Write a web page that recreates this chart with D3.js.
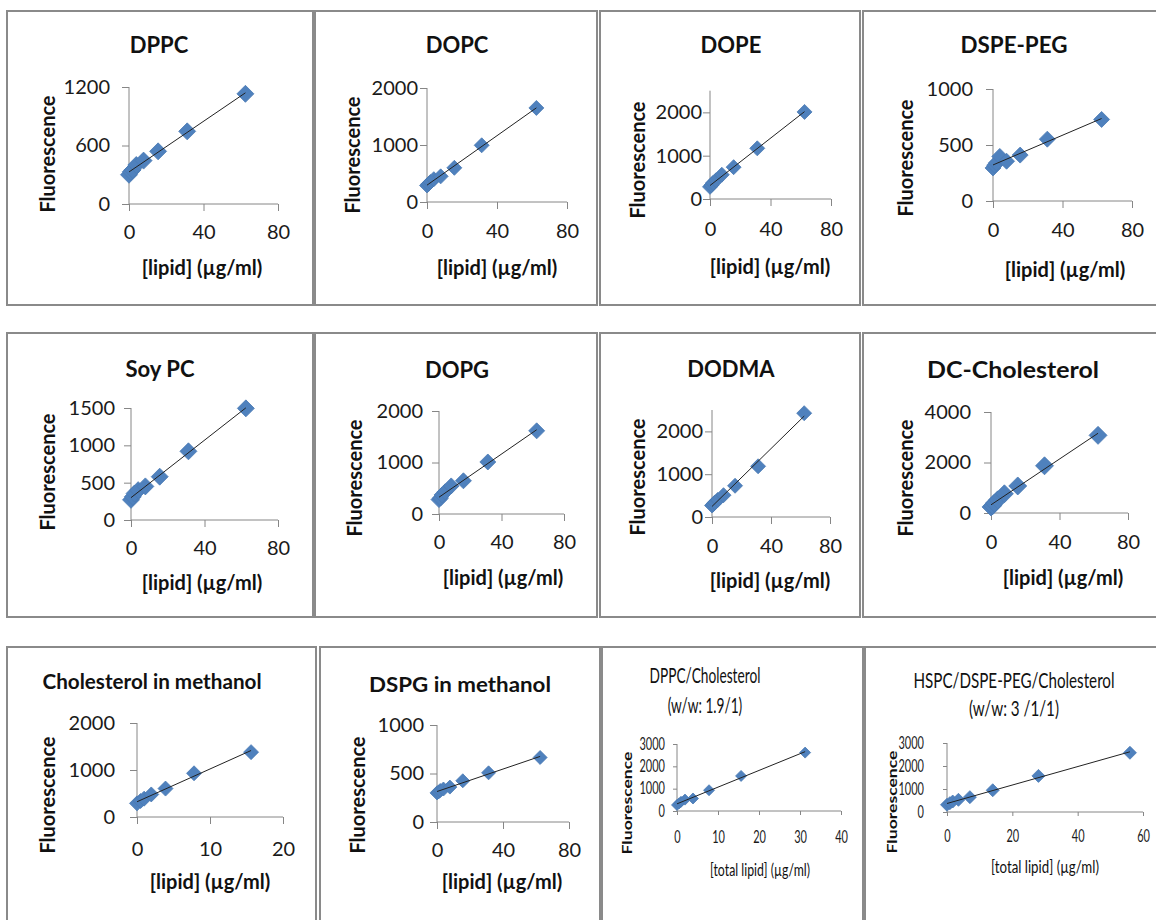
<!DOCTYPE html>
<html><head><meta charset="utf-8">
<script src="https://cdn.jsdelivr.net/npm/d3@7"></script>
<style>
body{margin:0;background:#fff;}
svg{display:block;font-family:Lato,"Open Sans",sans-serif;}
</style></head><body>
<svg id="c" width="1156" height="920"></svg>
<script>
// ---------- data ----------
const conc = [0, 0.977, 1.953, 3.906, 7.8125, 15.625, 31.25, 62.5];
const concChol = [0, 0.488, 0.977, 1.953, 3.906, 7.8125, 15.625];
const concDppcChol = [0, 0.488, 0.977, 1.953, 3.906, 7.8125, 15.625, 31.25];
const concHspc = [0, 0.875, 1.75, 3.5, 7, 14, 28, 56];

const fDPPC   = [300, 330, 350, 400, 445, 540, 745, 1130];
const fDOPC   = [290, 320, 350, 400, 450, 600, 995, 1650];
const fDOPE   = [280, 320, 370, 430, 560, 735, 1170, 2010];
const fDSPEPEG= [295, 320, 340, 398, 355, 410, 552, 728];
const fSoyPC  = [270, 310, 355, 400, 450, 580, 920, 1495];
const fDOPG   = [280, 310, 370, 430, 545, 645, 1010, 1615];
const fDODMA  = [270, 300, 340, 400, 510, 730, 1185, 2425];
const fDCChol = [240, 290, 390, 520, 760, 1070, 1870, 3075];
const fCholMeOH = [290, 340, 390, 480, 605, 930, 1380];
const fDSPG   = [300, 310, 325, 340, 360, 425, 507, 665];
const fDppcChol = [270, 340, 410, 510, 560, 930, 1570, 2615];
const fHspc   = [315, 385, 455, 530, 645, 945, 1570, 2575];

const titles = [["DPPC"],["DOPC"],["DOPE"],["DSPE-PEG"],["Soy PC"],["DOPG"],["DODMA"],["DC-Cholesterol"],
  ["Cholesterol in methanol"],["DSPG in methanol"],["DPPC/Cholesterol","(w/w: 1.9/1)"],["HSPC/DSPE-PEG/Cholesterol","(w/w: 3 /1/1)"]];
const yLabel = "Fluorescence";
const xLabel = "[lipid] (\u00b5g/ml)";
const xLabelTotal = "[total lipid]  (\u00b5g/ml)";

const xDomains = [80,80,80,80,80,80,80,80,20,80,40,60];
const yDomains = [1200,2000,2500,1000,1500,2000,2500,4000,2000,1000,3000,3000];
const xTickSets = [[0,40,80],[0,40,80],[0,40,80],[0,40,80],[0,40,80],[0,40,80],[0,40,80],[0,40,80],[0,10,20],[0,40,80],[0,10,20,30,40],[0,20,40,60]];
const yTickSets = [[0,600,1200],[0,1000,2000],[0,1000,2000],[0,500,1000],[0,500,1000,1500],[0,1000,2000],[0,1000,2000],[0,2000,4000],[0,1000,2000],[0,500,1000],[0,1000,2000,3000],[0,1000,2000,3000]];
const xSeries = [conc,conc,conc,conc,conc,conc,conc,conc,concChol,conc,concDppcChol,concHspc];
const ySeries = [fDPPC,fDOPC,fDOPE,fDSPEPEG,fSoyPC,fDOPG,fDODMA,fDCChol,fCholMeOH,fDSPG,fDppcChol,fHspc];

// ---------- layout (pixels) ----------
const layout = [
 {frame:[7,11,313,305], L:129,R:278,T:87,B:204, t:[159,45], yt:[48,154], xt:[202,268], yPad:19, xOff:28, mk:8.5, ts:22},
 {frame:[315,11,597,305], L:427,R:567,T:88,B:202, t:[457,45], yt:[353,155], xt:[497,268], yPad:9, xOff:29, mk:7.5, ts:22},
 {frame:[600,11,860,305], L:710,R:831,T:90.7,B:199, t:[731,45], yt:[638,160], xt:[770,267], yPad:8, xOff:30, mk:7.5, ts:22},
 {frame:[863,11,1160,305], L:993,R:1132,T:89,B:201, t:[1014,45], yt:[906,158], xt:[1065,270], yPad:20, xOff:29, mk:8, ts:22, tLen:107},
 {frame:[7,333,313,617], L:131,R:278,T:408,B:520, t:[160,369], yt:[48,472], xt:[202,583], yPad:16, xOff:28, mk:8.5, ts:22, tLen:69},
 {frame:[315,333,597,617], L:439,R:564,T:411,B:514, t:[457,370], yt:[355,478], xt:[503,578], yPad:16, xOff:28, mk:8, ts:22},
 {frame:[600,333,860,617], L:712,R:830,T:410,B:517, t:[731,369], yt:[638,477], xt:[770,581], yPad:9, xOff:29, mk:7.5, ts:22},
 {frame:[863,333,1160,617], L:991,R:1128,T:412,B:513, t:[1013,370], yt:[906,478], xt:[1063,578], yPad:20, xOff:29, mk:9, ts:22, tLen:172},
 {frame:[7,647,316,930], L:137,R:283,T:723,B:817, t:[152,682], yt:[48,795], xt:[210,882], yPad:22, xOff:32, mk:7.5, ts:20.5, tLen:219},
 {frame:[320,647,600,930], L:437,R:569,T:725,B:822, t:[460,684], yt:[358,795], xt:[502,882], yPad:13, xOff:28, mk:7, ts:21, tLen:182},
 {frame:[602,647,863,930], L:677,R:841,T:744,B:811, t:[705,675], t2:705, yt:[627,803], xt:[760,870], yPad:12, xOff:26, mk:5.5,
   small:true, tw:"normal", ts:13.7, sy:1.6, tickFont:11, tickSy:1.5, tick:4, ytSize:13, ytLen:103, xtSize:12.3, xtSy:1.4},
 {frame:[865,647,1160,930], L:947,R:1143,T:743,B:812, t:[1014,680], t2:708, yt:[892,802], xt:[1045,867], yPad:23, xOff:24, mk:6.5,
   small:true, tw:"normal", ts:15.2, sy:1.4, tickFont:11, tickSy:1.5, tick:4, ytSize:13, ytLen:103, xtSize:13.3, xtSy:1.35}
];

const svg = d3.select("#c");
svg.append("rect").attr("width",1156).attr("height",920).attr("fill","#fff");

const axisColor = "#868686";
const markColor = "#4f81bd";

layout.forEach((p, i) => {
  const g = svg.append("g");
  const [fx0, fy0, fx1, fy1] = p.frame;
  g.append("rect").attr("x", fx0).attr("y", fy0).attr("width", fx1 - fx0).attr("height", fy1 - fy0)
    .attr("fill", "none").attr("stroke", "#8a8a8a").attr("stroke-width", 2);

  const x = d3.scaleLinear().domain([0, xDomains[i]]).range([p.L, p.R]);
  const y = d3.scaleLinear().domain([0, yDomains[i]]).range([p.B, p.T]);
  const tick = p.tick || 7;
  const tf = p.tickFont || 20;
  const tsy = p.tickSy || 1;

  // axes
  const xPadding = p.xOff / tsy - 0.36 * tf - tick;
  const ax = g.append("g").attr("transform", `translate(0,${p.B})`)
    .call(d3.axisBottom(x).tickValues(xTickSets[i]).tickSize(tick).tickPadding(xPadding).tickFormat(d3.format("d")));
  const ay = g.append("g").attr("transform", `translate(${p.L},0)`)
    .call(d3.axisLeft(y).tickValues(yTickSets[i]).tickSize(tick).tickPadding(p.yPad - tick).tickFormat(d3.format("d")));
  [ax, ay].forEach(a => {
    a.select(".domain").attr("stroke", axisColor).attr("stroke-width", 1);
    a.selectAll(".tick line").attr("stroke", axisColor).attr("stroke-width", 1);
    a.selectAll(".tick text").attr("fill", "#1a1a1a").attr("font-size", tf)
      .attr("font-family", "Lato, sans-serif");
    if (tsy !== 1) a.selectAll(".tick text").attr("transform", `scale(1,${tsy})`);
  });
  ay.select(".domain").attr("d", `M0,${p.B}V${p.T}`);
  ax.select(".domain").attr("d", `M${p.L},0H${p.R}`);

  // markers
  const xs = xSeries[i], ys = ySeries[i];
  const pts = xs.map((v, k) => [v, ys[k]]);
  const h = p.mk;
  g.append("g").selectAll("path").data(pts).join("path")
    .attr("transform", d => `translate(${x(d[0])},${y(d[1])})`)
    .attr("d", `M0,${-h}L${h},0L0,${h}L${-h},0Z`)
    .attr("fill", markColor).attr("stroke", "#4a7ab4").attr("stroke-width", 0.8);

  // linear trendline (least squares)
  const mx = d3.mean(xs), my = d3.mean(ys);
  const slope = d3.sum(pts, d => (d[0] - mx) * (d[1] - my)) / d3.sum(pts, d => (d[0] - mx) ** 2);
  const icpt = my - slope * mx;
  const x0 = d3.min(xs), x1 = d3.max(xs);
  g.append("line").attr("x1", x(x0)).attr("y1", y(icpt + slope * x0))
    .attr("x2", x(x1)).attr("y2", y(icpt + slope * x1))
    .attr("stroke", "#222").attr("stroke-width", 1);

  // title
  const ts = p.ts || 22, tw = p.tw || "bold", sy = p.sy || 1;
  const tl = titles[i];
  tl.forEach((line, k) => {
    const cy = k === 0 ? p.t[1] : p.t2;
    const tt = g.append("text").attr("transform", `translate(${p.t[0]},${cy + 0.36 * ts * sy}) scale(1,${sy})`)
      .attr("text-anchor", "middle").attr("font-size", ts).attr("font-weight", tw).attr("fill", "#111")
      .text(line);
    if (p.tLen && k === 0) tt.attr("textLength", p.tLen).attr("lengthAdjust", "spacingAndGlyphs");
  });

  // y axis title
  const yts = p.ytSize || 20;
  const yt = g.append("text").attr("transform", `translate(${p.yt[0] + 0.36 * yts},${p.yt[1]}) rotate(-90)`)
    .attr("text-anchor", "middle").attr("font-size", yts).attr("font-weight", "bold").attr("fill", "#111")
    .text(yLabel);
  if (p.ytLen) yt.attr("textLength", p.ytLen).attr("lengthAdjust", "spacingAndGlyphs");

  // x axis title
  const xts = p.xtSize || 20, xsy = p.xtSy || 1;
  g.append("text").attr("transform", `translate(${p.xt[0]},${p.xt[1] + 0.36 * xts * xsy}) scale(1,${xsy})`)
    .attr("text-anchor", "middle").attr("font-size", xts).attr("font-weight", p.small ? "normal" : "bold").attr("fill", "#111")
    .text(p.small ? xLabelTotal : xLabel);
});
</script>
</body></html>
